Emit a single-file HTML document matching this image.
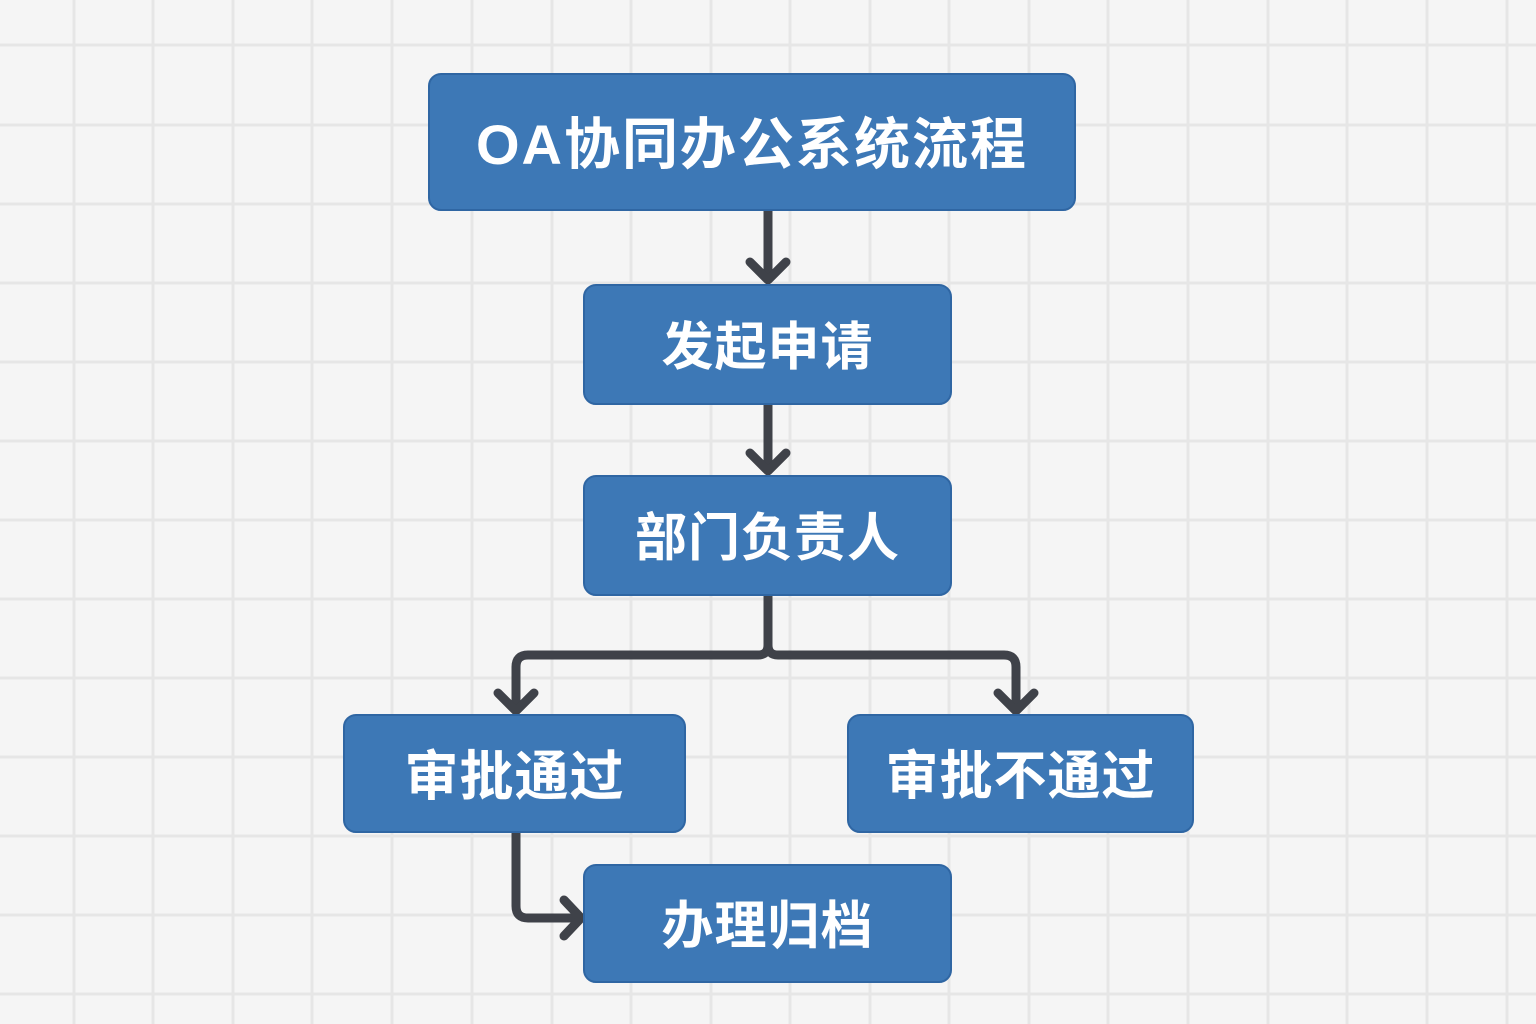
<!DOCTYPE html>
<html><head><meta charset="utf-8"><style>
html,body{margin:0;padding:0;}
body{width:1536px;height:1024px;background:#f5f5f5;position:relative;overflow:hidden;font-family:"Liberation Sans","Noto Sans CJK SC",sans-serif;}
.b{position:absolute;background:#3d78b6;border:2px solid #2f66a3;border-radius:13px;box-sizing:border-box;color:#fff;font-weight:bold;display:flex;align-items:center;justify-content:center;font-size:52px;letter-spacing:1px;padding-bottom:4px;}
svg{position:absolute;left:0;top:0;}
</style></head><body>
<svg width="1536" height="1024">
<g stroke="#e6e6e6" stroke-width="3">
<line x1="74" y1="0" x2="74" y2="1024"/><line x1="153" y1="0" x2="153" y2="1024"/><line x1="233" y1="0" x2="233" y2="1024"/><line x1="312" y1="0" x2="312" y2="1024"/><line x1="392" y1="0" x2="392" y2="1024"/><line x1="472" y1="0" x2="472" y2="1024"/><line x1="552" y1="0" x2="552" y2="1024"/><line x1="631" y1="0" x2="631" y2="1024"/><line x1="711" y1="0" x2="711" y2="1024"/><line x1="790" y1="0" x2="790" y2="1024"/><line x1="870" y1="0" x2="870" y2="1024"/><line x1="949" y1="0" x2="949" y2="1024"/><line x1="1029" y1="0" x2="1029" y2="1024"/><line x1="1108" y1="0" x2="1108" y2="1024"/><line x1="1188" y1="0" x2="1188" y2="1024"/><line x1="1268" y1="0" x2="1268" y2="1024"/><line x1="1347" y1="0" x2="1347" y2="1024"/><line x1="1427" y1="0" x2="1427" y2="1024"/><line x1="1507" y1="0" x2="1507" y2="1024"/>
<line x1="0" y1="45" x2="1536" y2="45"/><line x1="0" y1="125" x2="1536" y2="125"/><line x1="0" y1="204" x2="1536" y2="204"/><line x1="0" y1="283" x2="1536" y2="283"/><line x1="0" y1="362" x2="1536" y2="362"/><line x1="0" y1="441" x2="1536" y2="441"/><line x1="0" y1="520" x2="1536" y2="520"/><line x1="0" y1="599" x2="1536" y2="599"/><line x1="0" y1="678" x2="1536" y2="678"/><line x1="0" y1="757" x2="1536" y2="757"/><line x1="0" y1="836" x2="1536" y2="836"/><line x1="0" y1="915" x2="1536" y2="915"/><line x1="0" y1="994" x2="1536" y2="994"/>
</g>
<g stroke="#3f4249" stroke-width="9" fill="none" stroke-linecap="round" stroke-linejoin="round">
<line x1="768" y1="208" x2="768" y2="278"/><polyline points="750,262 768,280 786,262"/>
<line x1="768" y1="402" x2="768" y2="468"/><polyline points="750,453 768,471 786,453"/>
<path d="M768 595 V645 Q768 655 758 655 H528 Q516 655 516 667 V708"/><path d="M768 645 Q768 655 778 655 H1004 Q1016 655 1016 667 V708"/>
<polyline points="498,693 516,711 534,693"/><polyline points="998,693 1016,711 1034,693"/>
<path d="M516 830 V906 Q516 918 528 918 H578"/><polyline points="564,900 581,918 564,936"/>
</g>
</svg>
<div class="b" style="left:428px;top:73px;width:648px;height:138px;font-size:56px;letter-spacing:2px;">OA协同办公系统流程</div>
<div class="b" style="left:583px;top:284px;width:369px;height:121px;">发起申请</div>
<div class="b" style="left:583px;top:475px;width:369px;height:121px;">部门负责人</div>
<div class="b" style="left:343px;top:714px;width:343px;height:119px;font-size:54px;">审批通过</div>
<div class="b" style="left:847px;top:714px;width:347px;height:119px;font-size:53px;">审批不通过</div>
<div class="b" style="left:583px;top:864px;width:369px;height:119px;">办理归档</div>
</body></html>
